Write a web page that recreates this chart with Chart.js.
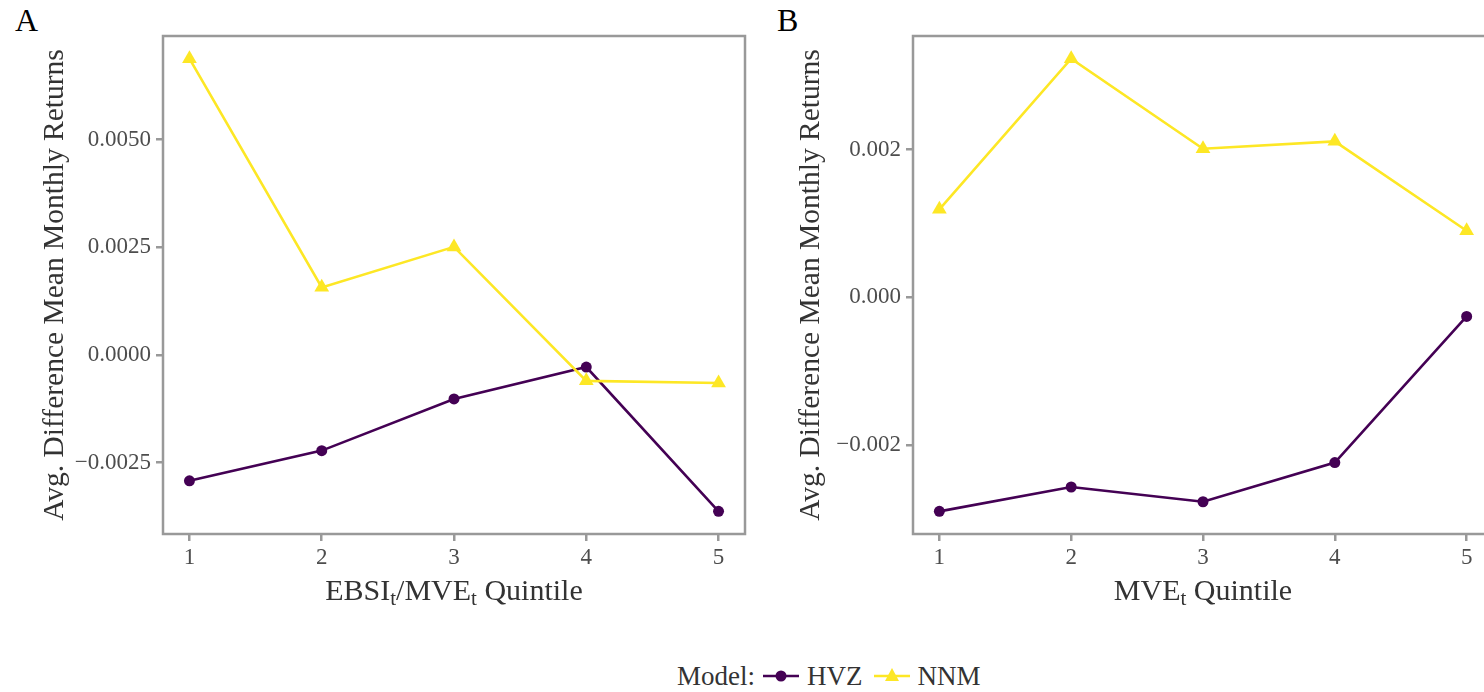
<!DOCTYPE html>
<html>
<head>
<meta charset="utf-8">
<script src="https://cdn.jsdelivr.net/npm/chart.js@4/dist/chart.umd.min.js"></script>
<style>
  html, body { margin: 0; padding: 0; background: #fff; overflow: hidden; }
  body { width: 1484px; height: 692px; position: relative; font-family: "Liberation Serif", "Times New Roman", serif; color: #333; }
  canvas { position: absolute; top: 0; }
  .tag { position: absolute; top: 2px; font-size: 32px; line-height: 36px; color: #000; }
  .xtitle { position: absolute; top: 573px; font-size: 30px; line-height: 34px; color: #333; text-align: center; white-space: nowrap; }
  .xtitle sub { font-size: 70%; vertical-align: -0.22em; line-height: 0; }
  #legend { position: absolute; left: 677px; top: 660px; font-size: 27px; line-height: 32px; color: #333; display: flex; align-items: center; white-space: nowrap; }
  #legend svg { margin: 0 8px 0 8px; }
</style>
</head>
<body>
<div class="tag" style="left:15px">A</div>
<div class="tag" style="left:777px">B</div>
<canvas id="chartA" width="760" height="620" style="left:0"></canvas>
<canvas id="chartB" width="760" height="620" style="left:760px"></canvas>
<div class="xtitle" style="left:254px;width:400px">EBSI<sub>t</sub>/MVE<sub>t</sub> Quintile</div>
<div class="xtitle" style="left:1003px;width:400px">MVE<sub>t</sub> Quintile</div>
<div id="legend"></div>
<script>
const quintiles = [1, 2, 3, 4, 5];
const models = ['HVZ', 'NNM'];
const modelColors = ['#440154', '#FDE725'];
const modelPoints = ['circle', 'triangle'];

// panel A: EBSI/MVE quintiles
const hvzA = [-0.00292, -0.00222, -0.00102, -0.00028, -0.00363];
const nnmA = [0.00688, 0.00157, 0.00251, -0.00060, -0.00065];
const yTicksA = [-0.0025, 0, 0.0025, 0.005];

// panel B: MVE quintiles
const hvzB = [-0.00290, -0.00257, -0.00277, -0.00224, -0.00026];
const nnmB = [0.00119, 0.00323, 0.00201, 0.00211, 0.00090];
const yTicksB = [-0.002, 0, 0.002];

const FONT = '"Liberation Serif", "Times New Roman", serif';
const GREY = '#999999';

const panelBox = {
  id: 'panelBox',
  afterDraw(chart) {
    const a = chart.chartArea;
    const ctx = chart.ctx;
    ctx.save();
    ctx.strokeStyle = GREY;
    ctx.lineWidth = 2.5;
    ctx.strokeRect(a.left, a.top, a.right - a.left, a.bottom - a.top);
    ctx.restore();
  }
};

function makeSet(name, vals, i) {
  return {
    label: name,
    data: quintiles.map((q, k) => ({ x: q, y: vals[k] })),
    borderColor: modelColors[i],
    backgroundColor: modelColors[i],
    borderWidth: 2.6,
    pointStyle: modelPoints[i],
    pointRadius: i === 0 ? 5.5 : 8.5,
    pointBorderWidth: 0,
    order: i === 0 ? 1 : 0,
    tension: 0
  };
}

function makeChart(id, hvz, nnm, yTicks, digits, axisW, padRight, titlePad) {
  const all = hvz.concat(nnm);
  const lo = Math.min(...all), hi = Math.max(...all);
  const ext = (hi - lo) * 0.05;
  return new Chart(document.getElementById(id), {
    type: 'line',
    data: { datasets: [makeSet('HVZ', hvz, 0), makeSet('NNM', nnm, 1)] },
    plugins: [panelBox],
    options: {
      responsive: false,
      animation: false,
      layout: { padding: { left: 0, right: padRight, top: 36, bottom: 0 } },
      plugins: { legend: { display: false }, tooltip: { enabled: false } },
      scales: {
        x: {
          type: 'linear',
          min: 0.8,
          max: 5.2,
          afterBuildTicks: s => { s.ticks = quintiles.map(v => ({ value: v })); },
          afterFit: s => { s.height = 86; },
          grid: { drawOnChartArea: false, drawTicks: true, tickLength: 7, color: GREY, lineWidth: 2.5 },
          border: { display: false },
          ticks: { color: '#4d4d4d', font: { family: FONT, size: 23 }, padding: 3, callback: v => String(v) }
        },
        y: {
          min: lo - ext,
          max: hi + ext,
          afterBuildTicks: s => { s.ticks = yTicks.map(v => ({ value: v })); },
          afterFit: s => { s.width = axisW; },
          grid: { drawOnChartArea: false, drawTicks: true, tickLength: 7, color: GREY, lineWidth: 2.5 },
          border: { display: false },
          ticks: { color: '#4d4d4d', font: { family: FONT, size: 23 }, padding: 5,
                   callback: v => v.toFixed(digits).replace('-', '\u2212') },
          title: { display: true, text: 'Avg. Difference Mean Monthly Returns', color: '#333',
                   font: { family: FONT, size: 29.5 }, padding: { top: titlePad, bottom: 0 } }
        }
      }
    }
  });
}

makeChart('chartA', hvzA, nnmA, yTicksA, 4, 163, 15, 38);
makeChart('chartB', hvzB, nnmB, yTicksB, 3, 153, 27, 34);

// legend
const leg = document.getElementById('legend');
let html = '<span>Model:</span>';
models.forEach((m, i) => {
  const mark = modelPoints[i] === 'circle'
    ? '<circle cx="18" cy="12" r="5.5" fill="' + modelColors[i] + '"/>'
    : '<polygon points="18,4 25,17 11,17" fill="' + modelColors[i] + '"/>';
  html += '<svg width="36" height="24"><line x1="0" y1="12" x2="36" y2="12" stroke="' + modelColors[i] +
          '" stroke-width="2.6"/>' + mark + '</svg><span style="margin-right:3px">' + m + '</span>';
});
leg.innerHTML = html;
</script>
</body>
</html>
